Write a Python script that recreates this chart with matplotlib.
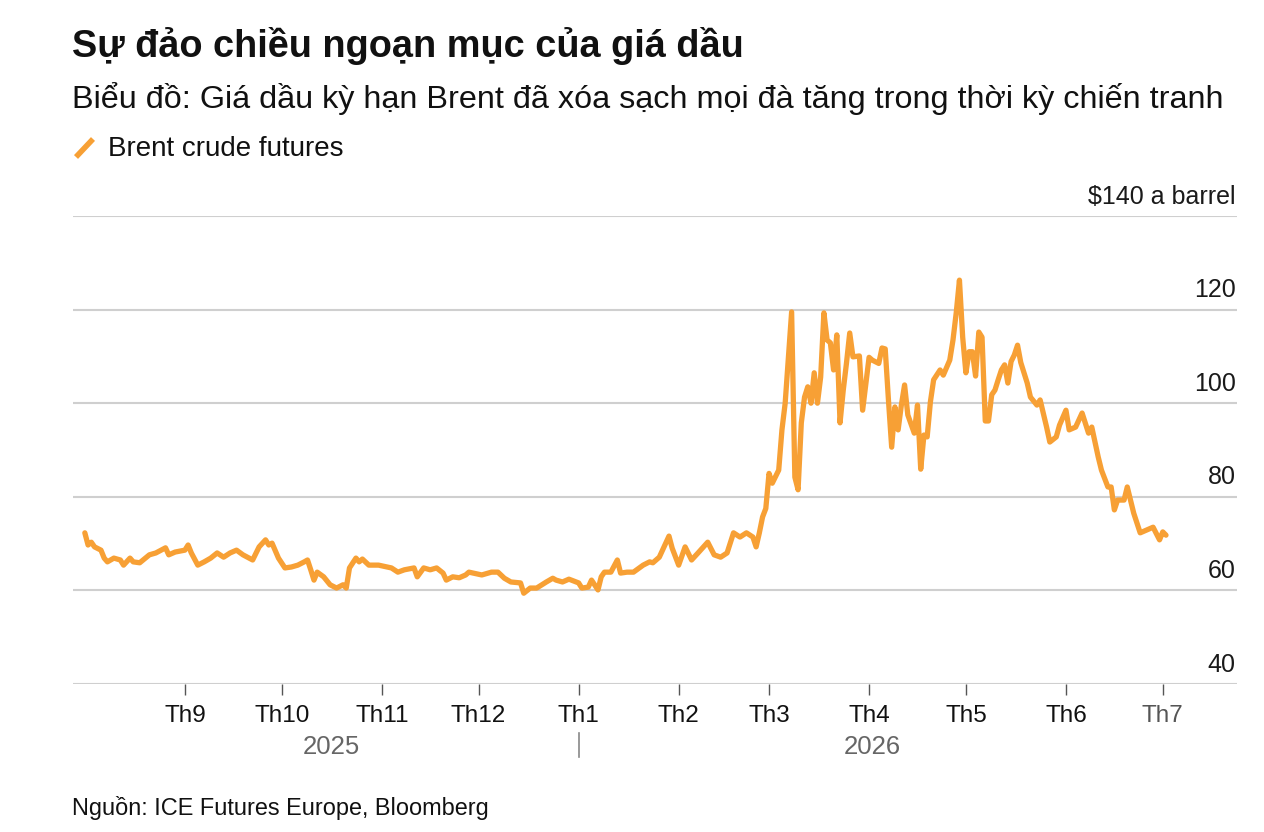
import matplotlib
matplotlib.use("Agg")
import matplotlib.pyplot as plt
from matplotlib.lines import Line2D
import pandas as pd

plt.rcParams['font.family'] = ['Liberation Sans', 'DejaVu Sans']

# ---------------- data ----------------
dates = [
    "2025-08-01", "2025-08-02", "2025-08-03", "2025-08-04", "2025-08-06", "2025-08-07",
    "2025-08-08", "2025-08-10", "2025-08-12", "2025-08-13", "2025-08-15", "2025-08-16",
    "2025-08-18", "2025-08-21", "2025-08-23", "2025-08-26", "2025-08-27", "2025-08-29",
    "2025-09-01", "2025-09-02", "2025-09-03", "2025-09-05", "2025-09-07", "2025-09-09",
    "2025-09-11", "2025-09-13", "2025-09-15", "2025-09-17", "2025-09-19", "2025-09-22",
    "2025-09-24", "2025-09-26", "2025-09-27", "2025-09-28", "2025-09-30", "2025-10-02",
    "2025-10-04", "2025-10-06", "2025-10-08", "2025-10-09", "2025-10-10", "2025-10-11",
    "2025-10-12", "2025-10-14", "2025-10-16", "2025-10-18", "2025-10-20", "2025-10-21",
    "2025-10-22", "2025-10-24", "2025-10-25", "2025-10-26", "2025-10-28", "2025-10-31",
    "2025-11-04", "2025-11-06", "2025-11-08", "2025-11-11", "2025-11-12", "2025-11-14",
    "2025-11-16", "2025-11-18", "2025-11-20", "2025-11-21", "2025-11-23", "2025-11-25",
    "2025-11-27", "2025-11-28", "2025-12-02", "2025-12-05", "2025-12-07", "2025-12-09",
    "2025-12-11", "2025-12-14", "2025-12-15", "2025-12-17", "2025-12-19", "2025-12-22",
    "2025-12-24", "2025-12-25", "2025-12-27", "2025-12-29", "2026-01-01", "2026-01-02",
    "2026-01-04", "2026-01-05", "2026-01-07", "2026-01-08", "2026-01-09", "2026-01-11",
    "2026-01-13", "2026-01-14", "2026-01-16", "2026-01-18", "2026-01-21", "2026-01-23",
    "2026-01-24", "2026-01-26", "2026-01-29", "2026-01-30", "2026-02-01", "2026-02-03",
    "2026-02-05", "2026-02-07", "2026-02-10", "2026-02-12", "2026-02-14", "2026-02-16",
    "2026-02-18", "2026-02-20", "2026-02-22", "2026-02-24", "2026-02-25", "2026-02-26",
    "2026-02-27", "2026-02-28", "2026-03-01", "2026-03-02", "2026-03-04", "2026-03-05",
    "2026-03-06", "2026-03-08", "2026-03-09", "2026-03-10", "2026-03-11", "2026-03-12",
    "2026-03-13", "2026-03-14", "2026-03-15", "2026-03-16", "2026-03-17", "2026-03-18",
    "2026-03-19", "2026-03-20", "2026-03-21", "2026-03-22", "2026-03-23", "2026-03-24",
    "2026-03-25", "2026-03-26", "2026-03-27", "2026-03-29", "2026-03-30", "2026-04-01",
    "2026-04-02", "2026-04-04", "2026-04-05", "2026-04-06", "2026-04-07", "2026-04-08",
    "2026-04-09", "2026-04-10", "2026-04-11", "2026-04-12", "2026-04-13", "2026-04-15",
    "2026-04-16", "2026-04-17", "2026-04-18", "2026-04-19", "2026-04-20", "2026-04-21",
    "2026-04-23", "2026-04-24", "2026-04-26", "2026-04-27", "2026-04-28", "2026-04-29",
    "2026-04-30", "2026-05-01", "2026-05-02", "2026-05-03", "2026-05-04", "2026-05-05",
    "2026-05-06", "2026-05-07", "2026-05-08", "2026-05-09", "2026-05-10", "2026-05-11",
    "2026-05-12", "2026-05-13", "2026-05-14", "2026-05-15", "2026-05-16", "2026-05-17",
    "2026-05-18", "2026-05-20", "2026-05-21", "2026-05-23", "2026-05-24", "2026-05-26",
    "2026-05-27", "2026-05-29", "2026-05-30", "2026-06-01", "2026-06-02", "2026-06-04",
    "2026-06-06", "2026-06-08", "2026-06-09", "2026-06-11", "2026-06-12", "2026-06-14",
    "2026-06-15", "2026-06-16", "2026-06-17", "2026-06-19", "2026-06-20", "2026-06-22",
    "2026-06-23", "2026-06-24", "2026-06-26", "2026-06-28", "2026-06-30", "2026-07-01",
    "2026-07-02",
]
prices = [
    72.3, 69.7, 70.3, 69.3, 68.6, 66.9,
    66.1, 66.9, 66.5, 65.4, 66.9, 66.1,
    65.9, 67.6, 68.0, 69.1, 67.6, 68.2,
    68.6, 69.7, 68.0, 65.4, 66.1, 66.9,
    68.0, 67.1, 68.0, 68.6, 67.6, 66.5,
    69.3, 70.8, 69.7, 70.1, 66.9, 64.8,
    65.0, 65.4, 66.1, 66.5, 64.4, 62.2,
    63.9, 62.9, 61.2, 60.5, 61.2, 60.5,
    64.8, 66.9, 66.1, 66.7, 65.4, 65.4,
    64.8, 63.9, 64.4, 64.8, 62.9, 64.8,
    64.4, 64.8, 63.7, 62.2, 62.9, 62.7,
    63.3, 63.9, 63.3, 63.9, 63.9, 62.6,
    61.8, 61.6, 59.4, 60.5, 60.5, 61.8,
    62.6, 62.2, 61.8, 62.4, 61.6, 60.5,
    60.7, 62.2, 60.1, 62.9, 63.9, 63.9,
    66.5, 63.7, 63.9, 63.9, 65.4, 66.1,
    65.9, 67.1, 71.6, 69.0, 65.4, 69.3,
    66.5, 68.0, 70.3, 67.6, 67.1, 68.0,
    72.3, 71.4, 72.3, 71.4, 69.3, 72.3,
    75.7, 77.5, 85.0, 82.9, 85.7, 94.3,
    100.0, 119.5, 84.2, 81.5, 95.8, 101.3,
    103.5, 100.0, 106.5, 100.0, 105.6, 119.3,
    113.5, 112.9, 107.1, 114.6, 95.8, 102.8,
    108.6, 115.0, 109.9, 110.1, 98.5, 109.8,
    109.2, 108.5, 111.8, 111.6, 100.7, 90.6,
    99.2, 94.3, 99.6, 103.9, 97.5, 93.6,
    99.6, 85.9, 93.2, 92.8, 100.3, 105.0,
    107.1, 106.0, 109.2, 113.5, 119.3, 126.3,
    114.1, 106.5, 111.0, 111.0, 105.8, 115.2,
    114.1, 96.2, 96.2, 101.8, 102.8, 105.0,
    107.1, 108.2, 104.3, 108.9, 110.3, 112.4,
    108.7, 104.3, 101.3, 99.6, 100.7, 94.9,
    91.7, 92.8, 95.3, 98.5, 94.3, 94.9,
    97.9, 93.6, 94.9, 88.5, 85.7, 82.1,
    82.1, 77.2, 79.3, 79.3, 82.1, 76.5,
    74.4, 72.3, 72.9, 73.5, 70.8, 72.5,
    71.8,
]
month_ticks = ["2025-09-01", "2025-10-01", "2025-11-01", "2025-12-01", "2026-01-01",
               "2026-02-01", "2026-03-01", "2026-04-01", "2026-05-01", "2026-06-01",
               "2026-07-01"]
month_labels = ["Th9", "Th10", "Th11", "Th12", "Th1", "Th2", "Th3", "Th4", "Th5", "Th6", "Th7"]
y_ticks = [40, 60, 80, 100, 120, 140]
y_labels = ["40", "60", "80", "100", "120", "$140 a barrel"]

# ---------------- styling constants ----------------
W, H = 1264, 832
ORANGE = "#F7A035"
GRID = "#cfcfcf"

dt = pd.to_datetime(dates)
mt = pd.to_datetime(month_ticks)

fig = plt.figure(figsize=(W / 100, H / 100), dpi=100)
fig.patch.set_facecolor("white")

def fx(px):
    return px / W

def fy(py):
    return 1 - py / H

ax = fig.add_axes([fx(73), fy(684), fx(1237) - fx(73), fy(216) - fy(684)])
ax.plot(dt, prices, color=ORANGE, lw=3.8, solid_joinstyle="round",
        solid_capstyle="round", zorder=3)

ax.set_ylim(40, 140)
ax.set_xlim(pd.Timestamp("2025-07-28 08:00"), pd.Timestamp("2026-07-24"))
for s in ax.spines.values():
    s.set_visible(False)
ax.set_yticks(y_ticks)
ax.yaxis.grid(True, color=GRID, lw=1.5)
ax.tick_params(axis="y", length=0, labelleft=False)
ax.set_axisbelow(True)

# y labels above the gridlines, right aligned
for v, lab in zip(y_ticks, y_labels):
    ax.annotate(lab, xy=(1.0, v), xycoords=ax.get_yaxis_transform(),
                xytext=(-1, 14), textcoords="offset points",
                ha="right", va="center", fontsize=18, color="#1a1a1a")

# x axis months
ax.set_xticks(mt)
ax.set_xticklabels(month_labels)
ax.tick_params(axis="x", length=8, width=1.0, color="#555555", pad=7,
               labelsize=17.5, labelcolor="#111111")
ax.get_xticklabels()[-1].set_color("#555555")

# year labels centred on each year's data span
y2025 = dt[dt.year == 2025]
y2026 = dt[dt.year == 2026]
jan1 = pd.Timestamp("2026-01-01")
mid25 = y2025.min() + (jan1 - y2025.min()) / 2
mid26 = jan1 + (y2026.max() - jan1) / 2
tr = ax.get_xaxis_transform()
ax.text(mid25, -0.135, "2025", transform=tr, ha="center", va="center",
        fontsize=18.5, color="#666666", clip_on=False)
ax.text(mid26, -0.135, "2026", transform=tr, ha="center", va="center",
        fontsize=18.5, color="#666666", clip_on=False)
ax.plot([jan1] * 2, [-0.105, -0.157], transform=tr,
        color="#888888", lw=1.2, clip_on=False)

# titles
fig.text(fx(72), fy(46), "Sự đảo chiều ngoạn mục của giá dầu", fontsize=27.3,
         fontweight="bold", ha="left", va="center", color="#111111")
fig.text(fx(72), fy(99), "Biểu đồ: Giá dầu kỳ hạn Brent đã xóa sạch mọi đà tăng trong thời kỳ chiến tranh",
         fontsize=23.3, ha="left", va="center", color="#111111")

# legend
fig.add_artist(Line2D([fx(76), fx(93)], [fy(157), fy(139)], color=ORANGE, lw=4,
                      solid_capstyle="butt"))
fig.text(fx(108), fy(149), "Brent crude futures", fontsize=20, ha="left", va="center",
         color="#111111")

# source
fig.text(fx(72), fy(808), "Nguồn: ICE Futures Europe, Bloomberg", fontsize=16.9,
         ha="left", va="center", color="#111111")

fig.savefig("out.png", dpi=100, facecolor="white")
